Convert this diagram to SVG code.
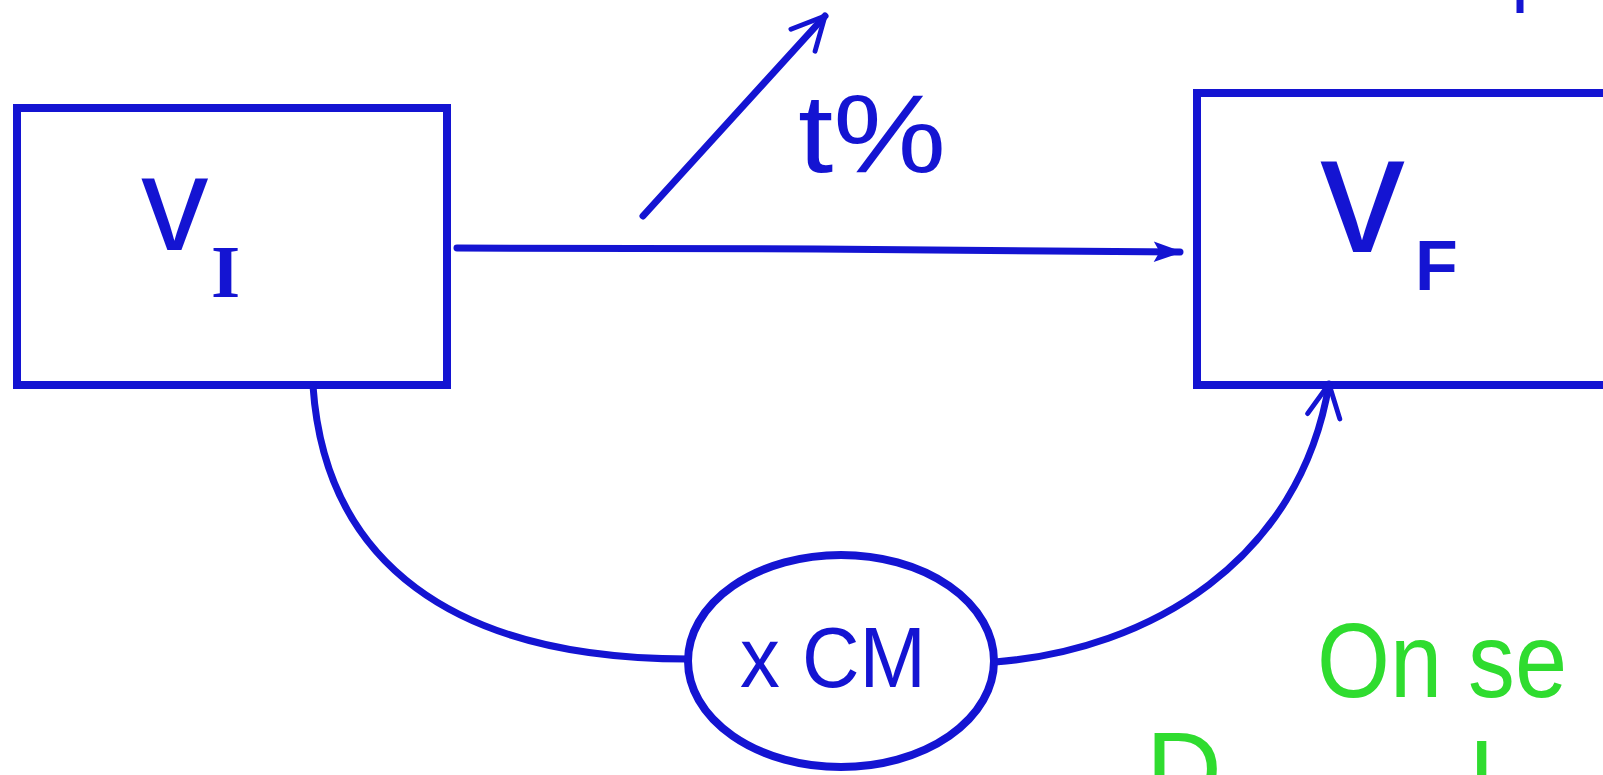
<svg xmlns="http://www.w3.org/2000/svg" width="1603" height="775" viewBox="0 0 1603 775">
  <style>
    .box { fill: none; stroke: #1414d2; stroke-width: 8; }
    .conn { fill: none; stroke: #1414d2; stroke-width: 7; stroke-linecap: round; stroke-linejoin: round; }
    .lbl { fill: #1414d2; font-family: "Liberation Sans", "DejaVu Sans", sans-serif; }
    .note { fill: #2fdc2f; font-family: "Liberation Sans", "DejaVu Sans", sans-serif; }
  </style>
  <defs>
    <marker id="head" viewBox="0 0 12 12" refX="10" refY="6" markerWidth="5" markerHeight="5" markerUnits="strokeWidth" orient="auto">
      <path d="M1,2.5 L11,6 L1,9.5 L3,6 Z" fill="#1414d2"/>
    </marker>
    <marker id="open" viewBox="0 0 12 12" refX="10" refY="6" markerWidth="7" markerHeight="7" markerUnits="strokeWidth" orient="auto">
      <path d="M2,2 L10,6 L2,10" fill="none" stroke="#1414d2" stroke-width="1.2" stroke-linecap="round" stroke-linejoin="round"/>
    </marker>
  </defs>
  <rect width="1603" height="775" fill="#ffffff"/>

  <g id="node-vi">
    <rect class="box" x="17" y="108" width="430" height="277"/>
    <text class="lbl" x="141" y="250" font-size="135">v</text>
    <text class="lbl" x="211" y="297" font-size="75" font-weight="bold" style="font-family:'Liberation Serif', serif">I</text>
  </g>

  <g id="node-vf">
    <rect class="box" x="1197" y="93" width="500" height="292"/>
    <text class="lbl" x="1320" y="252" font-size="170">v</text>
    <text class="lbl" x="1415" y="290" font-size="70" font-weight="bold">F</text>
  </g>

  <g id="node-xcm">
    <ellipse class="box" cx="841" cy="661" rx="153" ry="106" stroke-width="7"/>
    <text class="lbl" x="740" y="687" font-size="86" textLength="186" lengthAdjust="spacingAndGlyphs">x CM</text>
  </g>

  <g id="connectors">
    <path class="conn" d="M457,248 L817,249 L1180,252" marker-end="url(#head)"/>
    <path class="conn" d="M643,216 L825,16" marker-end="url(#open)"/>
    <path class="conn" d="M313,386 C325,560 450,659 688,659"/>
    <path class="conn" d="M995,662 C1150,650 1300,560 1329,384" marker-end="url(#open)"/>
  </g>

  <g id="label-rate">
    <text class="lbl" x="798" y="172" font-size="112" textLength="148" lengthAdjust="spacingAndGlyphs">t%</text>
  </g>

  <g id="note">
    <text class="note" x="1317" y="697" font-size="105" textLength="250" lengthAdjust="spacingAndGlyphs">On se</text>
    <text class="note" x="1146" y="806" font-size="105">D</text>
    <text class="note" x="1470" y="818" font-size="105">l</text>
  </g>

  <g id="mark-top">
    <line x1="1520" y1="0" x2="1520" y2="13" stroke="#1414d2" stroke-width="7"/>
  </g>
</svg>
